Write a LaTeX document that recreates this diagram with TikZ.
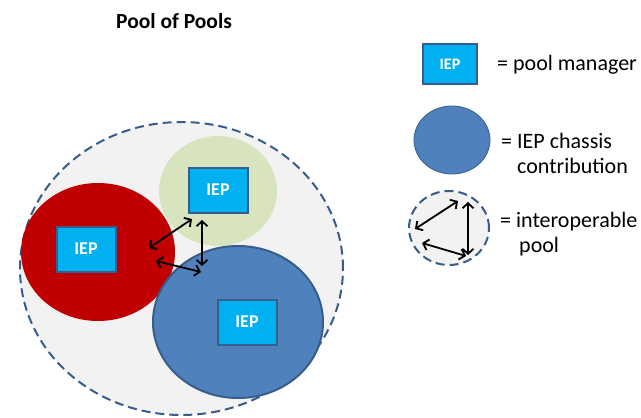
\documentclass[tikz,border=0pt]{standalone}
\usepackage{fontspec}
\setmainfont{Carlito}
\usetikzlibrary{shapes.geometric,arrows.meta,positioning}
\definecolor{poolgray}{RGB}{242,242,242}
\definecolor{ringblue}{RGB}{56,93,138}
\definecolor{chassisred}{RGB}{192,0,0}
\definecolor{chassisgreen}{RGB}{215,228,189}
\definecolor{chassisblue}{RGB}{79,129,189}
\definecolor{iepblue}{RGB}{0,176,240}
\begin{document}
\begin{tikzpicture}
[x=1pt, y=-1pt,
iepbox/.style={rectangle, draw=ringblue, line width=2pt, fill=iepblue, text=white, font=\fontsize{18}{20}\selectfont\bfseries, minimum width=59pt, minimum height=45pt, inner sep=0},
chassis/.style={ellipse, inner sep=0},
poolring/.style={ellipse, draw=ringblue, line width=2pt, fill=poolgray, dash pattern=on 9pt off 5pt, inner sep=0},
link/.style={line width=1.8pt, {Straight Barb[length=5pt,width=11pt]}-{Straight Barb[length=5pt,width=11pt]}},
legendtext/.style={anchor=base west, inner sep=0, font=\fontsize{22}{26}\selectfont},
]
\useasboundingbox (0,0) rectangle (641,418);
% title
\node[anchor=base, inner sep=0, font=\fontsize{21.5}{24}\selectfont\bfseries](title) at (174,28) {Pool of Pools};
% pool of pools
\node[poolring, minimum width=323pt, minimum height=293pt](pool) at (181.5,268.5) {};
\node[chassis, fill=chassisred, minimum width=154pt, minimum height=138pt](red) at (98,252) {};
\node[chassis, fill=chassisgreen, minimum width=118pt, minimum height=110pt](green) at (218,191) {};
\node[chassis, fill=chassisblue, draw=ringblue, line width=2pt, minimum width=170pt, minimum height=152pt](blue) at (238,322) {};
\node[iepbox](iep1) at (86,249) {IEP};
\node[iepbox](iep2) at (218,190) {IEP};
\node[iepbox](iep3) at (247,322) {IEP};
%arrows
\coordinate (r1) at (149,248); \coordinate (g1) at (192,219);
\coordinate (g2) at (202,220); \coordinate (b2) at (202,266);
\coordinate (r3) at (156,261); \coordinate (b3) at (201,272);
\draw[link] (r1) -- (g1);
\draw[link] (g2) -- (b2);
\draw[link] (r3) -- (b3);
% legend
\node[iepbox, minimum width=54pt, minimum height=40pt, font=\fontsize{16}{18}\selectfont\bfseries](keybox) at (450,64) {IEP};
\node[legendtext](keyboxtext) at (497,70) {= pool manager};
\node[chassis, fill=chassisblue, draw=ringblue, line width=0.8pt, minimum width=76pt, minimum height=68pt](keychassis) at (452,140) {};
\node[legendtext](keychassistext) at (501,148) {= IEP chassis};
\node[legendtext](keychassistext2) at (517,173) {contribution};
\node[poolring, minimum width=80pt, minimum height=74pt](keypool) at (449,228) {};
\coordinate (k1) at (415,229); \coordinate (k2) at (458,201);
\coordinate (k3) at (468,202); \coordinate (k4) at (468,255);
\coordinate (k5) at (422,243); \coordinate (k6) at (466,256);
\draw[link] (k1) -- (k2);
\draw[link] (k3) -- (k4);
\draw[link] (k5) -- (k6);
\node[legendtext](keypooltext) at (500,227) {= interoperable};
\node[legendtext](keypooltext2) at (519,252) {pool};
\end{tikzpicture}
\end{document}
